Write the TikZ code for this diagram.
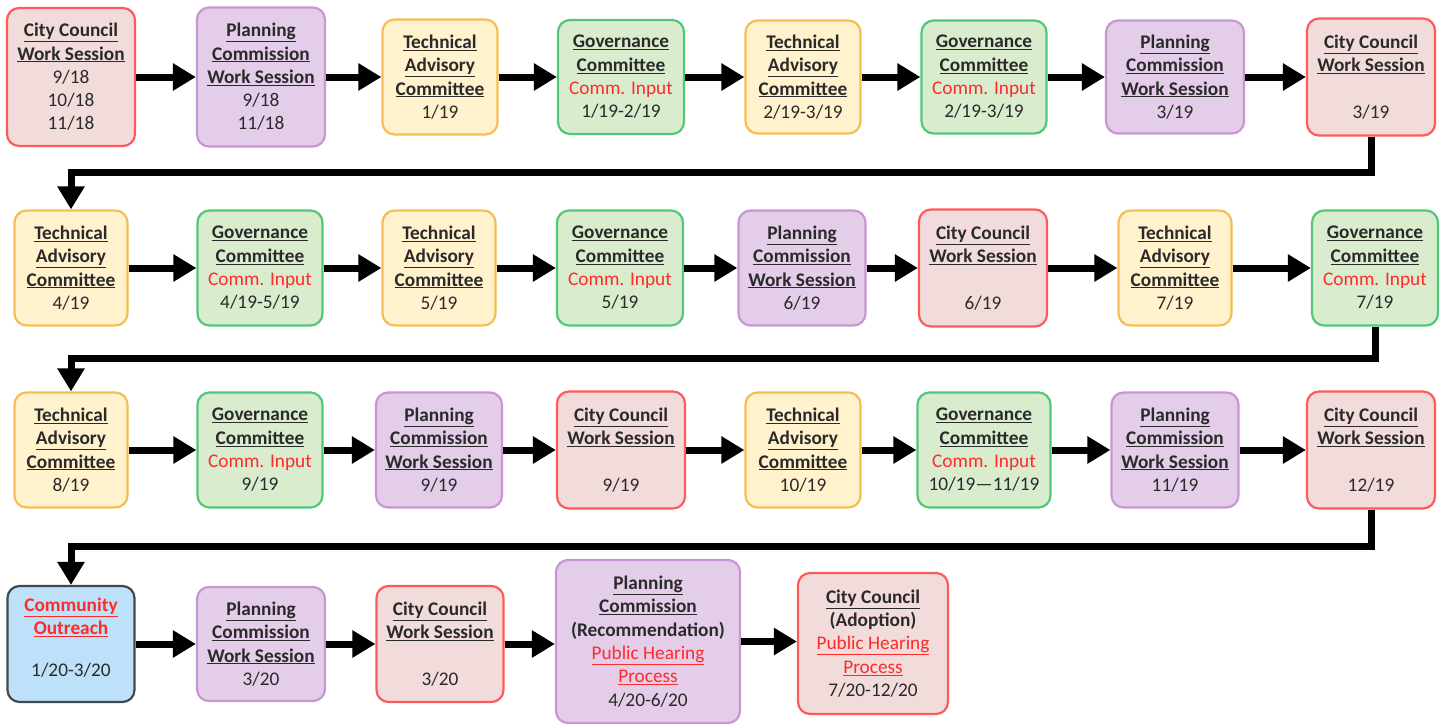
\documentclass[tikz,border=0pt]{standalone}
\usepackage{fontspec}
\setmainfont{Carlito}
\usetikzlibrary{arrows.meta}
\definecolor{ccF}{HTML}{F2DCDB}
\definecolor{ccD}{HTML}{FF5A5A}
\definecolor{pcF}{HTML}{E4CDE8}
\definecolor{pcD}{HTML}{C896D2}
\definecolor{taF}{HTML}{FFF2CC}
\definecolor{taD}{HTML}{F5BE55}
\definecolor{gvF}{HTML}{D9EDCE}
\definecolor{gvD}{HTML}{50C878}
\definecolor{coF}{HTML}{BDE1F8}
\definecolor{coD}{HTML}{3F4A50}
\definecolor{cinput}{HTML}{FF2A2A}
\definecolor{datec}{HTML}{2A2A2A}
\newcommand{\hdr}[1]{\textbf{\underline{#1}}}
\newcommand{\cin}[1]{\textcolor{cinput}{#1}}
\newcommand{\phl}[1]{\textcolor{cinput}{\underline{#1}}}
\tikzset{
  box/.style={rounded corners=12pt, line width=2.2pt, align=center, inner sep=0pt,
    font=\fontsize{19.3}{23.3}\selectfont, text=datec},
  wh/.style 2 args={minimum width=#1, minimum height=#2},
  cc/.style={box, draw=ccD, fill=ccF},
  pc/.style={box, draw=pcD, fill=pcF},
  ta/.style={box, draw=taD, fill=taF},
  gv/.style={box, draw=gvD, fill=gvF},
  co/.style={box, draw=coD, fill=coF},
  arr/.style={line width=7pt, -{Triangle[length=23pt,width=26pt]}, black},
}
\begin{document}
\begin{tikzpicture}[x=1pt,y=-1pt]
\useasboundingbox (0,0) rectangle (1442,723);
% Row 1
\node[cc, wh={128pt}{138pt}] (a1) at (71,77) {\hdr{City Council}\\\hdr{Work Session}\\9/18\\10/18\\11/18};
\node[pc, wh={128pt}{139pt}] (a2) at (261,77) {\hdr{Planning}\\\hdr{Commission}\\\hdr{Work Session}\\9/18\\11/18};
\node[ta, wh={115pt}{115pt}] (a3) at (440,77) {\hdr{Technical}\\\hdr{Advisory}\\\hdr{Committee}\\1/19};
\node[gv, wh={126pt}{114pt}] (a4) at (621,77) {\hdr{Governance}\\\hdr{Committee}\\\cin{Comm. Input}\\1/19-2/19};
\node[ta, wh={115pt}{113pt}] (a5) at (803,77) {\hdr{Technical}\\\hdr{Advisory}\\\hdr{Committee}\\2/19-3/19};
\node[gv, wh={125pt}{113pt}] (a6) at (984,77) {\hdr{Governance}\\\hdr{Committee}\\\cin{Comm. Input}\\2/19-3/19};
\node[pc, wh={138pt}{113pt}] (a7) at (1175,77) {\hdr{Planning}\\\hdr{Commission}\\\hdr{Work Session}\\3/19};
\node[cc, wh={128pt}{117pt}] (a8) at (1371,77) {\hdr{City Council}\\\hdr{Work Session}\\\strut\\3/19};
% Row 2
\node[ta, wh={113pt}{115pt}] (b1) at (71,268) {\hdr{Technical}\\\hdr{Advisory}\\\hdr{Committee}\\4/19};
\node[gv, wh={125pt}{115pt}] (b2) at (260,268) {\hdr{Governance}\\\hdr{Committee}\\\cin{Comm. Input}\\4/19-5/19};
\node[ta, wh={113pt}{115pt}] (b3) at (439,268) {\hdr{Technical}\\\hdr{Advisory}\\\hdr{Committee}\\5/19};
\node[gv, wh={126pt}{115pt}] (b4) at (620,268) {\hdr{Governance}\\\hdr{Committee}\\\cin{Comm. Input}\\5/19};
\node[pc, wh={127pt}{115pt}] (b5) at (802,268) {\hdr{Planning}\\\hdr{Commission}\\\hdr{Work Session}\\6/19};
\node[cc, wh={128pt}{117pt}] (b6) at (983,268) {\hdr{City Council}\\\hdr{Work Session}\\\strut\\6/19};
\node[ta, wh={113pt}{115pt}] (b7) at (1175,268) {\hdr{Technical}\\\hdr{Advisory}\\\hdr{Committee}\\7/19};
\node[gv, wh={126pt}{115pt}] (b8) at (1375,268) {\hdr{Governance}\\\hdr{Committee}\\\cin{Comm. Input}\\7/19};
% Row 3
\node[ta, wh={113pt}{115pt}] (c1) at (71,450) {\hdr{Technical}\\\hdr{Advisory}\\\hdr{Committee}\\8/19};
\node[gv, wh={125pt}{115pt}] (c2) at (260,450) {\hdr{Governance}\\\hdr{Committee}\\\cin{Comm. Input}\\9/19};
\node[pc, wh={126pt}{115pt}] (c3) at (439,450) {\hdr{Planning}\\\hdr{Commission}\\\hdr{Work Session}\\9/19};
\node[cc, wh={128pt}{117pt}] (c4) at (621,450) {\hdr{City Council}\\\hdr{Work Session}\\\strut\\9/19};
\node[ta, wh={115pt}{115pt}] (c5) at (803,450) {\hdr{Technical}\\\hdr{Advisory}\\\hdr{Committee}\\10/19};
\node[gv, wh={133pt}{115pt}] (c6) at (984,450) {\hdr{Governance}\\\hdr{Committee}\\\cin{Comm. Input}\\10/19---11/19};
\node[pc, wh={127pt}{115pt}] (c7) at (1175,450) {\hdr{Planning}\\\hdr{Commission}\\\hdr{Work Session}\\11/19};
\node[cc, wh={128pt}{117pt}] (c8) at (1371,450) {\hdr{City Council}\\\hdr{Work Session}\\\strut\\12/19};
% Row 4
\node[co, wh={127pt}{116pt}] (d1) at (71,644) {\textcolor{cinput}{\hdr{Community}}\\\textcolor{cinput}{\hdr{Outreach}}\\[18pt]1/20-3/20\rule[-14pt]{0pt}{0pt}};
\node[pc, wh={128pt}{114pt}] (d2) at (261,644) {\hdr{Planning}\\\hdr{Commission}\\\hdr{Work Session}\\3/20};
\node[cc, wh={127pt}{116pt}] (d3) at (440,644) {\hdr{City Council}\\\hdr{Work Session}\\\strut\\3/20};
\node[pc, wh={184pt}{163pt}] (d4) at (648,641.5) {\hdr{Planning}\\\hdr{Commission}\\\textbf{(Recommendation)}\\\phl{Public Hearing}\\\phl{Process}\\4/20-6/20};
\node[cc, wh={150pt}{141pt}] (d5) at (873,643.5) {\hdr{City Council}\\\textbf{(Adoption)}\\\phl{Public Hearing}\\\phl{Process}\\7/20-12/20};
% Arrows within rows
\foreach \r in {a,b,c}{
  \foreach \i [evaluate=\i as \j using int(\i+1)] in {1,...,7}{
    \draw[arr] (\r\i.east) -- (\r\i.east -| \r\j.west);
  }
}
\foreach \i/\j in {1/2,2/3,3/4,4/5}{
  \draw[arr] (d\i.east) -- (d\i.east -| d\j.west);
}
% Row-to-row connectors
\draw[arr] (a8.south) -- ++(0,36) -| (b1.north);
\draw[arr] (b8.south) -- ++(0,32) -| (c1.north);
\draw[arr] (c8.south) -- ++(0,37) -| (d1.north);
\end{tikzpicture}
\end{document}
